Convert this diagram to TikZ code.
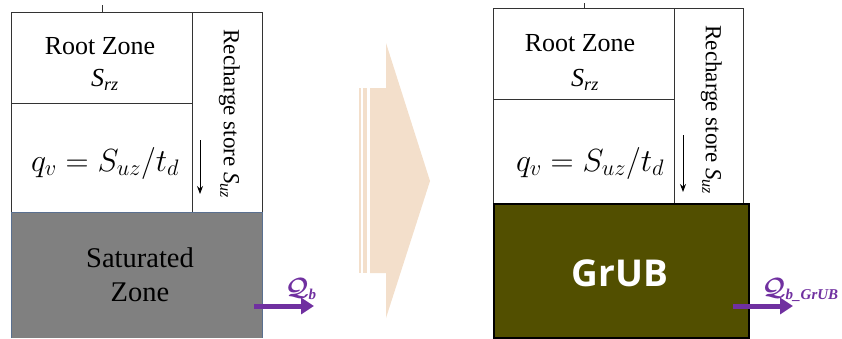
\RequirePackage{fix-cm}
\documentclass[tikz,border=0pt]{standalone}
\usepackage{amsmath}
\usepackage{fontspec}
\setmainfont{Liberation Serif}
\newfontfamily\grubfont{Open Sans}
\usetikzlibrary{arrows.meta}
\definecolor{peach}{HTML}{F3DFCB}
\definecolor{satgray}{HTML}{808080}
\definecolor{satedge}{HTML}{5A7090}
\definecolor{olive}{HTML}{524F00}
\definecolor{qpurple}{HTML}{7030A0}
\tikzset{
  boxline/.style={draw=black!80, line width=0.9pt},
  txt/.style={inner sep=0pt, align=center},
  flowarrow/.style={draw=qpurple, line width=5pt, -{Triangle[length=13pt,width=16pt]}},
  downarrow/.style={draw=black, line width=0.9pt, -{Stealth[length=8pt,width=6pt]}},
  formula/.style={txt, font=\fontsize{32}{34}\selectfont},
  qlabel/.style={txt, text=qpurple, font=\fontsize{25}{27}\selectfont},
}
\newcommand{\subsz}[1]{\mbox{\fontsize{15}{16}\selectfont\bfseries\itshape #1}}
\begin{document}
\begin{tikzpicture}[x=1pt,y=-1pt]
\useasboundingbox (0,0) rectangle (842,338);
% ---------- left diagram ----------
\draw[boxline] (102,5) -- (102,12);
\draw[boxline] (11,12) rectangle (262,212);
\draw[boxline] (11,103) -- (192,103);
\draw[boxline] (192,12) -- (192,212);
\fill[satgray] (11,212) rectangle (262,338);
\draw[satedge, line width=0.9pt] (11,338) -- (11,212) -- (262,212) -- (262,338);
\node[txt, font=\fontsize{26}{28}\selectfont] (lroot) at (100,46) {Root Zone};
\node[txt, font=\fontsize{26}{28}\selectfont] (lsrz) at (105,80) {\textit{S}\textsubscript{\textit{rz}}};
\node[formula] (lqv) at (105,163) {$q_v = S_{uz}/t_d$};
\node[txt, rotate=-90, anchor=north, font=\fontsize{23}{25}\selectfont] (lrech) at (240,114) {Recharge store \textit{S}\textsubscript{\textit{uz}}};
\coordinate (la1) at (200,140);
\coordinate (la2) at (200,194);
\draw[downarrow] (la1) -- (la2);
\node[txt, font=\fontsize{28.5}{34}\selectfont, text=black] (lsat) at (140,275) {Saturated\\Zone};
\coordinate (lq1) at (254,306);
\coordinate (lq2) at (314,306);
\draw[flowarrow] (lq1) -- (lq2);
\node[qlabel] (lqb) at (301,289) {$\boldsymbol{\mathcal{Q}}_{\subsz{b}}$};
% ---------- middle arrow ----------
\fill[peach] (359,88) rectangle (361,273);
\fill[peach] (363,88) rectangle (367,273);
\fill[peach] (370,88) -- (386,88) -- (386,43) -- (430,181) -- (386,318) -- (386,273) -- (370,273) -- cycle;
% ---------- right diagram ----------
\draw[boxline] (584,3) -- (584,8);
\draw[boxline] (493,8) rectangle (743,203);
\draw[boxline] (493,99) -- (674,99);
\draw[boxline] (674,8) -- (674,203);
\node[txt, font=\fontsize{26}{28}\selectfont] (rroot) at (580,43) {Root Zone};
\node[txt, font=\fontsize{26}{28}\selectfont] (rsrz) at (585,80) {\textit{S}\textsubscript{\textit{rz}}};
\node[formula] (rqv) at (590,163) {$q_v = S_{uz}/t_d$};
\node[txt, rotate=-90, anchor=north, font=\fontsize{23}{25}\selectfont] (rrech) at (722,110) {Recharge store \textit{S}\textsubscript{\textit{uz}}};
\coordinate (ra1) at (683,135);
\coordinate (ra2) at (683,192);
\draw[downarrow] (ra1) -- (ra2);
\node[draw=black, line width=1.8pt, fill=olive, minimum width=255pt, minimum height=134pt, inner sep=0pt, anchor=north west] (grub) at (493,203) {};
\node[txt, text=white, font=\grubfont\bfseries\fontsize{37}{40}\selectfont] (grubt) at (620,273) {GrUB};
\coordinate (rq1) at (733,306);
\coordinate (rq2) at (793,306);
\draw[flowarrow] (rq1) -- (rq2);
\node[qlabel, anchor=west] (rqb) at (762,290) {$\boldsymbol{\mathcal{Q}}_{\subsz{b\_GrUB}}$};
\end{tikzpicture}
\end{document}
